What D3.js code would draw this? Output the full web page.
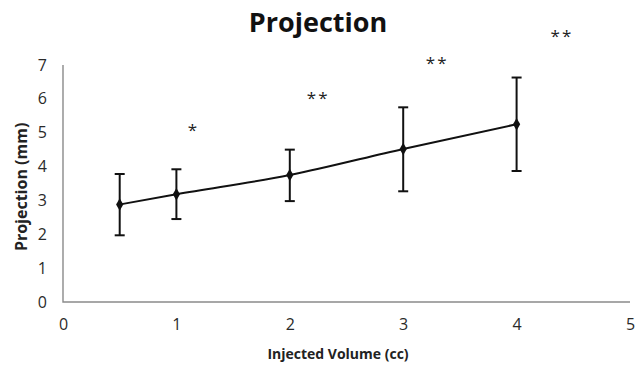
<!DOCTYPE html>
<html lang="en">
<head>
<meta charset="UTF-8">
<title>Projection</title>
<script src="https://d3js.org/d3.v7.min.js"></script>
<style>
  body { margin: 0; background: #fff; }
  text { font-family: "Open Sans", "Noto Sans", sans-serif; }
  .tick text { font-size: 16px; fill: #2a2a2a; }
</style>
</head>
<body>
<script>
  const width = 640;
  const height = 369;

  // data
  const volumes = [0.5, 1, 2, 3, 4];
  const means = [2.88, 3.18, 3.75, 4.52, 5.25];
  const upper = [3.78, 3.92, 4.5, 5.75, 6.63];
  const lower = [1.97, 2.45, 2.98, 3.27, 3.87];
  const starLabels = ["*", "**", "**", "**"];
  const starX = [1.15, 2.25, 3.3, 4.4];
  const starY = [5.1, 6.05, 7.1, 7.9];
  const xTicks = [0, 1, 2, 3, 4, 5];
  const yTicks = [0, 1, 2, 3, 4, 5, 6, 7];

  const margin = { left: 63, right: 10, top: 65, bottom: 67 };

  const x = d3.scaleLinear().domain([0, 5]).range([margin.left, width - margin.right]);
  const y = d3.scaleLinear().domain([0, 7]).range([height - margin.bottom, margin.top]);

  const svg = d3.select("body").append("svg")
    .attr("width", width)
    .attr("height", height);

  // tick labels (no tick marks, domain drawn separately)
  svg.append("g")
    .attr("transform", `translate(0,${y(0)})`)
    .call(d3.axisBottom(x).tickValues(xTicks).tickFormat(d3.format("d")).tickSize(0).tickPadding(17))
    .call(g => g.select(".domain").remove());

  svg.append("g")
    .attr("transform", `translate(${x(0)},0)`)
    .call(d3.axisLeft(y).tickValues(yTicks).tickFormat(d3.format("d")).tickSize(0).tickPadding(16))
    .call(g => g.select(".domain").remove());

  // axis lines
  svg.append("path")
    .attr("fill", "none")
    .attr("stroke", "#8a8a8a")
    .attr("stroke-width", 1.4)
    .attr("d", `M${x(0)},${y(7)}V${y(0)}H${x(5)}`);

  const pts = volumes.map((v, i) => ({ v, m: means[i], hi: upper[i], lo: lower[i] }));

  // error bars
  const eb = svg.append("g").attr("stroke", "#111").attr("stroke-width", 2);
  eb.selectAll("line.v").data(pts).join("line")
    .attr("class", "v")
    .attr("x1", d => x(d.v)).attr("x2", d => x(d.v))
    .attr("y1", d => y(d.hi)).attr("y2", d => y(d.lo));
  eb.selectAll("line.t").data(pts).join("line")
    .attr("class", "t")
    .attr("x1", d => x(d.v) - 5).attr("x2", d => x(d.v) + 5)
    .attr("y1", d => y(d.hi)).attr("y2", d => y(d.hi));
  eb.selectAll("line.b").data(pts).join("line")
    .attr("class", "b")
    .attr("x1", d => x(d.v) - 5).attr("x2", d => x(d.v) + 5)
    .attr("y1", d => y(d.lo)).attr("y2", d => y(d.lo));

  // line
  svg.append("path")
    .datum(pts)
    .attr("fill", "none")
    .attr("stroke", "#111")
    .attr("stroke-width", 2)
    .attr("d", d3.line().x(d => x(d.v)).y(d => y(d.m)).curve(d3.curveMonotoneX));

  // diamond markers
  svg.selectAll("path.mk").data(pts).join("path")
    .attr("class", "mk")
    .attr("fill", "#111")
    .attr("transform", d => `translate(${x(d.v)},${y(d.m)})`)
    .attr("d", d3.symbol(d3.symbolDiamond, 45));

  // significance stars
  svg.selectAll("text.star").data(starLabels).join("text")
    .attr("class", "star")
    .attr("x", (d, i) => x(starX[i]))
    .attr("y", (d, i) => y(starY[i]) + 7)
    .attr("text-anchor", "middle")
    .attr("font-size", 17)
    .attr("letter-spacing", 2)
    .attr("fill", "#222")
    .text(d => d);

  // title and axis labels
  svg.append("text")
    .attr("x", 318).attr("y", 32)
    .attr("text-anchor", "middle")
    .attr("font-size", 27).attr("font-weight", "bold")
    .attr("fill", "#111")
    .text("Projection");

  svg.append("text")
    .attr("x", 338).attr("y", 359)
    .attr("text-anchor", "middle")
    .attr("font-size", 14).attr("font-weight", "bold")
    .attr("fill", "#222")
    .text("Injected Volume (cc)");

  svg.append("text")
    .attr("transform", `translate(27,${y(3.4)}) rotate(-90)`)
    .attr("text-anchor", "middle")
    .attr("font-size", 16).attr("font-weight", "bold")
    .attr("fill", "#222")
    .text("Projection (mm)");
</script>
</body>
</html>
